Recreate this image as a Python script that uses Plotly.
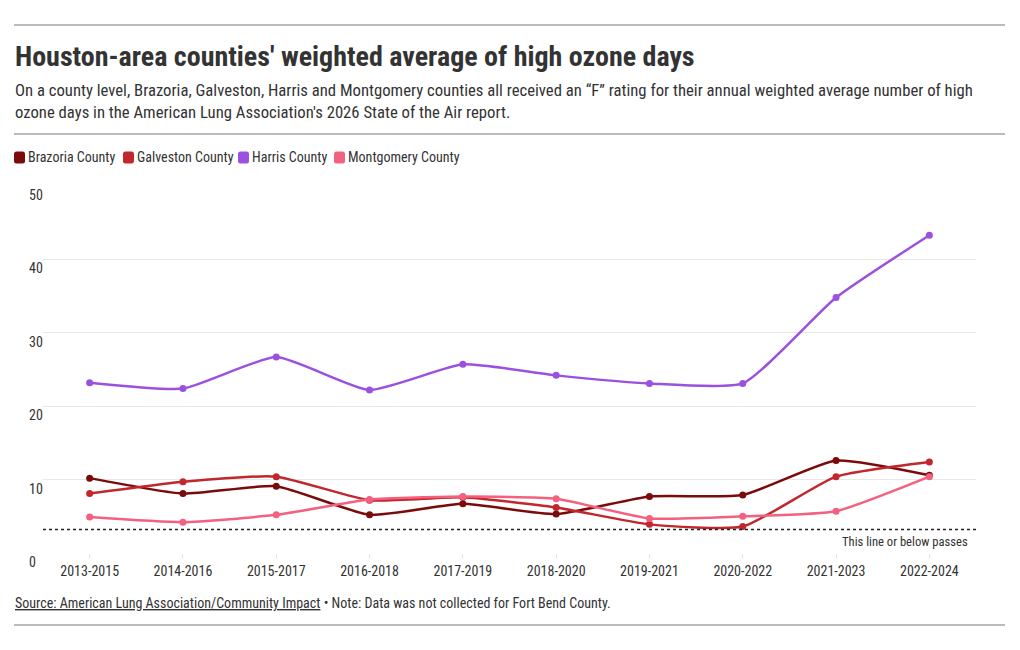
import plotly.graph_objects as go

# ---- data ----
periods = ['2013-2015', '2014-2016', '2015-2017', '2016-2018', '2017-2019',
           '2018-2020', '2019-2021', '2020-2022', '2021-2023', '2022-2024']

brazoria = [10.2, 8.1, 9.1, 5.2, 6.7, 5.3, 7.7, 7.9, 12.6, 10.6]
galveston = [8.1, 9.7, 10.4, 7.2, 7.6, 6.2, 3.9, 3.6, 10.4, 12.4]
harris = [23.2, 22.4, 26.7, 22.2, 25.7, 24.2, 23.1, 23.1, 34.8, 43.3]
montgomery = [4.9, 4.2, 5.2, 7.3, 7.7, 7.4, 4.7, 5.0, 5.7, 10.4]

series_names = ['Brazoria County', 'Galveston County', 'Harris County', 'Montgomery County']
series_values = [brazoria, galveston, harris, montgomery]
series_colors = ['#7b0a0a', '#c1272d', '#9b51e0', '#f4607f']

y_ticks = [0, 10, 20, 30, 40, 50]
pass_threshold = 3.2

FONT = 'Roboto Condensed, Liberation Sans Narrow, Roboto, sans-serif'
TEXT = '#333333'

# the page body has an 8px margin, so the figure is a bit smaller than the window
OFF = 8
W, H = 1020 - 2 * OFF, 650 - 2 * OFF
# plot area in window pixels
SCR_L, SCR_R, SCR_T, SCR_B = 43, 976, 186, 553

# legend swatch left edges (window pixels)
LEGEND_X = [14, 123, 238, 334]


def px(p):
    # window pixel x -> paper x
    return (p - SCR_L) / (SCR_R - SCR_L)


def py(p):
    # window pixel y -> paper y
    return (SCR_B - p) / (SCR_B - SCR_T)


def rounded_rect(x0, y0, x1, y1, r):
    # svg path for a small rounded rectangle, window pixel coords
    X = lambda p: f'{px(p):.5f}'
    Y = lambda p: f'{py(p):.5f}'
    return (f'M {X(x0 + r)},{Y(y0)} L {X(x1 - r)},{Y(y0)} Q {X(x1)},{Y(y0)} {X(x1)},{Y(y0 + r)} '
            f'L {X(x1)},{Y(y1 - r)} Q {X(x1)},{Y(y1)} {X(x1 - r)},{Y(y1)} '
            f'L {X(x0 + r)},{Y(y1)} Q {X(x0)},{Y(y1)} {X(x0)},{Y(y1 - r)} '
            f'L {X(x0)},{Y(y0 + r)} Q {X(x0)},{Y(y0)} {X(x0 + r)},{Y(y0)} Z')


fig = go.Figure()

for name, vals, color in zip(series_names, series_values, series_colors):
    fig.add_trace(go.Scatter(
        x=periods,
        y=vals,
        name=name,
        mode='lines+markers',
        line=dict(color=color, width=2.5, shape='spline', smoothing=0.5),
        marker=dict(color=color, size=7),
        showlegend=False,
        hovertemplate='<b>' + name + '</b><br>%{x}: %{y}<extra></extra>'
    ))

# dotted "pass" line
fig.add_shape(
    type='line', xref='paper', yref='y',
    x0=0, x1=1, y0=pass_threshold, y1=pass_threshold,
    line=dict(color='#222222', width=1.6, dash='dot')
)
fig.add_annotation(
    text='This line or below passes',
    xref='paper', yref='y', x=px(970), y=pass_threshold,
    xanchor='right', yanchor='top', yshift=-2, showarrow=False,
    font=dict(family=FONT, size=12.6, color=TEXT)
)

# y tick labels sit just below each gridline
for v in y_ticks:
    fig.add_annotation(
        text=str(v), xref='paper', yref='y', x=px(27), y=v,
        xanchor='left', yanchor='top', yshift=1, showarrow=False,
        font=dict(family=FONT, size=14, color=TEXT)
    )

# header / footer text
fig.add_annotation(
    text="<b>Houston-area counties' weighted average of high ozone days</b>",
    xref='paper', yref='paper', x=px(13), y=py(56),
    xanchor='left', yanchor='middle', showarrow=False,
    font=dict(family=FONT, size=28, color=TEXT)
)
fig.add_annotation(
    text=('On a county level, Brazoria, Galveston, Harris and Montgomery counties all received an \u201cF\u201d '
          'rating for their annual weighted average number of high<br>ozone days in the American Lung '
          "Association's 2026 State of the Air report."),
    xref='paper', yref='paper', x=px(13), y=py(101),
    xanchor='left', yanchor='middle', align='left', showarrow=False,
    font=dict(family=FONT, size=16.7, color=TEXT)
)

# legend: rounded swatches plus labels
for lx, name, color in zip(LEGEND_X, series_names, series_colors):
    fig.add_shape(
        type='path', xref='paper', yref='paper',
        path=rounded_rect(lx, 151.5, lx + 11, 163.5, 2.5),
        fillcolor=color, line=dict(width=0)
    )
    fig.add_annotation(
        text=name, xref='paper', yref='paper', x=px(lx + 12), y=py(157.5),
        xanchor='left', yanchor='middle', showarrow=False,
        font=dict(family=FONT, size=14, color=TEXT)
    )

fig.add_annotation(
    text=("<span style='text-decoration:underline'>Source: American Lung Association/Community Impact</span>"
          " \u2022 Note: Data was not collected for Fort Bend County."),
    xref='paper', yref='paper', x=px(13), y=py(603),
    xanchor='left', yanchor='middle', showarrow=False,
    font=dict(family=FONT, size=14, color=TEXT)
)

# horizontal rules
for ry in [25, 134, 625]:
    fig.add_shape(
        type='line', xref='paper', yref='paper',
        x0=px(14), x1=px(1005), y0=py(ry), y1=py(ry),
        line=dict(color='#777777', width=1)
    )

fig.update_layout(
    width=W, height=H,
    margin=dict(l=SCR_L - OFF, r=W - (SCR_R - OFF), t=SCR_T - OFF, b=H - (SCR_B - OFF), pad=0),
    plot_bgcolor='white',
    paper_bgcolor='white',
    font=dict(family=FONT, size=14, color=TEXT),
    showlegend=False,
    xaxis=dict(
        type='category',
        range=[-0.5, len(periods) - 0.5],
        showgrid=False,
        zeroline=False,
        showline=False,
        ticks='outside', ticklen=5, tickcolor='#e6e6e6',
        tickfont=dict(family=FONT, size=14, color=TEXT),
        fixedrange=True
    ),
    yaxis=dict(
        range=[0, 50],
        tickvals=y_ticks,
        showticklabels=False,
        showgrid=True, gridcolor='#e8e8e8', gridwidth=1,
        zeroline=False,
        showline=False,
        fixedrange=True
    ),
    hovermode='closest'
)

fig.write_html('out.html')
